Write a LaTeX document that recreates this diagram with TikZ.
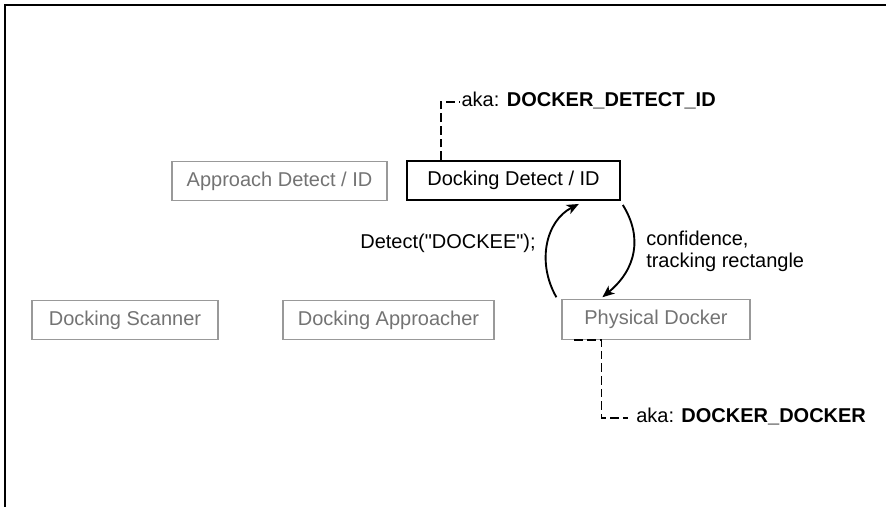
\documentclass[tikz,border=0pt]{standalone}
\usepackage{fontspec}
\setmainfont{Liberation Sans}
% no tex-text mapping here, so straight quotes stay straight
\newfontfamily\codefont{Liberation Sans}
\usetikzlibrary{arrows.meta}
\begin{document}
\begin{tikzpicture}[x=0.75pt,y=-0.75pt,
  font=\fontsize{15}{16.5}\selectfont,
  box/.style={draw,line width=1.2pt,inner sep=0pt,minimum height=29.5pt},
  offbox/.style={box,draw=black!40,text=black!55,line width=0.9pt},
  akatext/.style={anchor=base west,inner ysep=0pt},
  akaline/.style={line width=1.3pt,dash pattern=on 6.5pt off 3pt},
  flow/.style={line width=1.4pt,-{Stealth[length=9pt,width=7.5pt,inset=2.5pt]}}]
\useasboundingbox (0,0) rectangle (886,507);
\draw[line width=1pt] (5,507) -- (5,5) -- (886,5);
% components
\node[offbox,minimum width=161.25pt] (appdet) at (279.5,181) {Approach Detect / ID};
\node[box,minimum width=159.75pt] (dockdet) at (513.5,180.5) {Docking Detect / ID};
\node[offbox,minimum width=139.5pt] (scanner) at (125,320) {Docking Scanner};
\node[offbox,minimum width=158.25pt] (approacher) at (388.5,320) {Docking Approacher};
\node[offbox,minimum width=141pt] (physdock) at (656,319.5) {Physical Docker};
% aliases
\node[akatext,inner xsep=1pt] (akadet) at (460,106) {aka: \textbf{DOCKER\_DETECT\_ID}};
\node[akatext,inner xsep=6pt] (akadock) at (628,422) {aka: \textbf{DOCKER\_DOCKER}};
\draw[akaline] ([xshift=26.25pt]dockdet.north west) |- ([yshift=-1.5pt]akadet.west);
\draw[akaline] ([xshift=9.75pt]physdock.south west) -- ([xshift=30pt]physdock.south west)
  |- ([yshift=-1.5pt]akadock.west);
% call and reply
\draw[flow] ([shift={(-5,-2)}]physdock.north west) .. controls +(-20,-35) and +(-33,17) .. ([shift={(-42,3)}]dockdet.south east);
\draw[flow] ([shift={(2,4)}]dockdet.south east) .. controls +(20,32) and +(34,-28) .. ([shift={(41,-2)}]physdock.north west);
\node[inner sep=0pt,font=\fontsize{15}{16.5}\codefont] (detcall) at (448,243) {Detect("DOCKEE");};
\node[anchor=west,align=left,inner sep=0pt] (reply) at (646,251) {confidence,\\tracking rectangle};
\end{tikzpicture}
\end{document}
